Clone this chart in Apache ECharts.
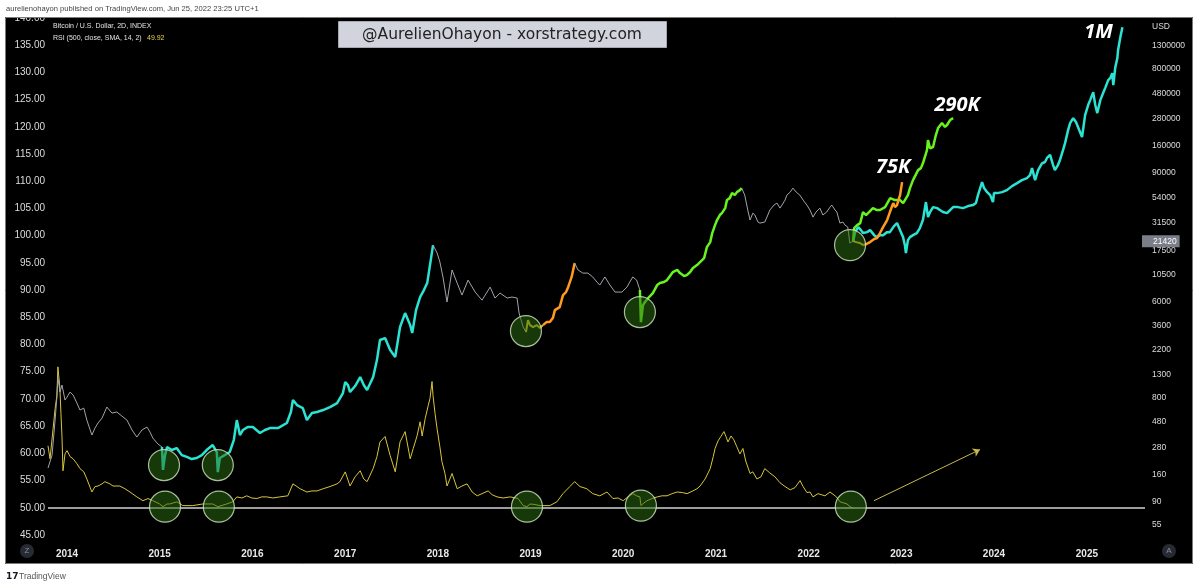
<!DOCTYPE html>
<html>
<head>
<meta charset="utf-8">
<title>BTC RSI 500 cycles</title>
<script src="https://cdn.jsdelivr.net/npm/echarts@6/dist/echarts.min.js"></script>
<style>
  html, body { margin: 0; padding: 0; background: #fff; }
  #chart { width: 1200px; height: 588px; }
</style>
</head>
<body>
<div id="chart"></div>
<script>
// ---- axis ticks ----
const priceTicks = [55, 90, 160, 280, 480, 800, 1300, 2200, 3600, 6000, 10500, 17500, 31500,
  54000, 90000, 160000, 280000, 480000, 800000, 1300000];
const lastPrice = 21420;
const lastRsi = 49.92;

// ---- price history, split by colour ----
const histGray1 = [['2013-10-18', 182], ['2013-11-03', 239], ['2013-11-15', 499], ['2013-11-22', 809], ['2013-11-26', 1232],
  ['2013-12-04', 899], ['2013-12-12', 1042], ['2013-12-24', 760], ['2014-01-01', 809], ['2014-01-13', 899], ['2014-01-25', 844],
  ['2014-02-09', 713], ['2014-02-21', 616], ['2014-03-08', 642], ['2014-03-20', 499], ['2014-04-09', 364], ['2014-04-21', 422],
  ['2014-05-03', 469], ['2014-05-19', 521], ['2014-06-07', 656], ['2014-06-27', 578], ['2014-07-16', 591], ['2014-08-05', 543],
  ['2014-08-25', 499], ['2014-09-14', 405], ['2014-10-03', 349], ['2014-10-23', 405], ['2014-11-12', 431], ['2014-11-24', 388],
  ['2014-12-05', 342], ['2014-12-25', 302], ['2015-01-10', 283]];
const histCyan = [['2015-01-10', 283], ['2015-01-14', 175], ['2015-01-22', 239], ['2015-01-30', 283], ['2015-02-18', 266],
  ['2015-03-09', 277], ['2015-03-29', 239], ['2015-04-18', 230], ['2015-05-07', 220], ['2015-05-27', 225], ['2015-06-16', 239],
  ['2015-07-05', 266], ['2015-07-29', 295], ['2015-08-14', 255], ['2015-08-18', 167], ['2015-08-26', 225], ['2015-09-14', 239],
  ['2015-10-04', 255], ['2015-10-20', 328], ['2015-11-01', 499], ['2015-11-13', 364], ['2015-11-25', 405], ['2015-12-14', 431],
  ['2016-01-03', 431], ['2016-01-31', 380], ['2016-02-20', 405], ['2016-03-10', 422], ['2016-04-11', 422], ['2016-05-16', 469],
  ['2016-06-01', 591], ['2016-06-09', 760], ['2016-06-25', 684], ['2016-07-18', 642], ['2016-08-03', 499], ['2016-08-23', 578],
  ['2016-09-12', 591], ['2016-10-06', 616], ['2016-11-02', 656], ['2016-11-30', 713], ['2016-12-23', 880], ['2017-01-01', 1109],
  ['2017-01-12', 1042], ['2017-01-20', 899], ['2017-02-09', 1020], ['2017-03-01', 1232], ['2017-03-15', 1042], ['2017-03-28', 937],
  ['2017-04-21', 1232], ['2017-05-06', 1761], ['2017-05-18', 2683], ['2017-06-07', 2796], ['2017-06-27', 2171], ['2017-07-17', 1876],
  ['2017-08-05', 3525], ['2017-08-25', 4728], ['2017-09-14', 3670], ['2017-09-22', 3107], ['2017-10-07', 5030], ['2017-10-23', 6617],
  ['2017-11-07', 7667], ['2017-11-20', 8878], ['2017-12-01', 12960], ['2017-12-13', 19700]];
const histGray2 = [['2017-12-13', 19700], ['2017-12-29', 16700], ['2018-01-09', 13800], ['2018-01-21', 10100], ['2018-02-06', 5960],
  ['2018-02-26', 11700], ['2018-03-18', 8880], ['2018-04-06', 6900], ['2018-04-30', 9450], ['2018-05-28', 7350], ['2018-06-24', 6200],
  ['2018-07-26', 8160], ['2018-08-14', 6480], ['2018-09-03', 7200], ['2018-10-01', 6480], ['2018-10-20', 6620], ['2018-11-09', 6480],
  ['2018-11-17', 4730], ['2018-12-03', 3525], ['2018-12-14', 3170]];
const histYellow = [['2018-12-14', 3170], ['2018-12-22', 4080], ['2018-12-30', 3670], ['2019-01-11', 3525], ['2019-01-26', 3670],
  ['2019-02-07', 3450], ['2019-02-19', 3670]];
const histOrange = [['2019-02-19', 3670], ['2019-03-06', 3910], ['2019-03-18', 3910], ['2019-03-30', 4256], ['2019-04-07', 5030],
  ['2019-04-26', 5360], ['2019-05-09', 6900], ['2019-05-21', 7350], ['2019-05-28', 7990], ['2019-06-12', 10100], ['2019-06-24', 13500]];
const histGray3 = [['2019-06-24', 13500], ['2019-07-07', 11700], ['2019-07-26', 10950], ['2019-08-15', 10950], ['2019-09-03', 10100],
  ['2019-09-20', 9070], ['2019-10-01', 8510], ['2019-10-21', 10100], ['2019-11-10', 8510], ['2019-11-30', 7350], ['2019-12-15', 7350],
  ['2019-12-27', 7350], ['2020-01-16', 8160], ['2020-01-27', 9070], ['2020-02-08', 10100], ['2020-02-23', 9450], ['2020-03-07', 7670]];
const histGreen = [['2020-03-07', 7670], ['2020-03-11', 3910], ['2020-03-19', 5590], ['2020-03-27', 5960], ['2020-04-12', 6620],
  ['2020-04-27', 7200], ['2020-05-14', 8510], ['2020-05-25', 8880], ['2020-06-10', 9070], ['2020-06-22', 9450], ['2020-07-15', 11200],
  ['2020-08-01', 11700], ['2020-08-12', 10950], ['2020-08-28', 10300], ['2020-09-08', 10500], ['2020-09-21', 11200], ['2020-10-02', 12200],
  ['2020-10-18', 12960], ['2020-10-30', 13800], ['2020-11-15', 15000], ['2020-11-26', 18900], ['2020-12-09', 21000], ['2020-12-17', 25400],
  ['2020-12-28', 30000], ['2021-01-05', 33400], ['2021-01-16', 37100], ['2021-01-24', 38600], ['2021-02-06', 42900], ['2021-02-13', 50800],
  ['2021-02-24', 52900], ['2021-03-05', 58800], ['2021-03-16', 56400], ['2021-03-24', 60000], ['2021-04-05', 62600], ['2021-04-12', 65300]];
const histGray4 = [['2021-04-12', 65300], ['2021-04-24', 56400], ['2021-05-06', 41200], ['2021-05-15', 33400], ['2021-05-26', 38600],
  ['2021-06-03', 37100], ['2021-06-15', 32000], ['2021-06-23', 31300], ['2021-07-12', 32000], ['2021-07-24', 37100], ['2021-08-01', 41200],
  ['2021-08-17', 45700], ['2021-08-29', 47700], ['2021-09-10', 42900], ['2021-09-17', 41200], ['2021-09-30', 50800], ['2021-10-07', 56400],
  ['2021-10-20', 60000], ['2021-10-31', 65300], ['2021-11-13', 60000], ['2021-11-27', 56400], ['2021-12-10', 50800], ['2021-12-25', 45700],
  ['2022-01-06', 41200], ['2022-01-18', 35500], ['2022-01-30', 39500], ['2022-02-14', 42900], ['2022-02-26', 37100], ['2022-03-13', 39500],
  ['2022-03-26', 43800], ['2022-04-02', 45700], ['2022-04-15', 41200], ['2022-04-22', 39500], ['2022-05-04', 31300], ['2022-05-16', 32000],
  ['2022-05-24', 30000], ['2022-06-04', 28800], ['2022-06-12', 20600], ['2022-06-25', 21420]];

// ---- projected paths ----
const projGreen = [['2022-06-25', 21420], ['2022-06-29', 28200], ['2022-07-11', 30000], ['2022-07-23', 31300], ['2022-08-03', 39500],
  ['2022-08-15', 37100], ['2022-08-23', 38600], ['2022-09-11', 42900], ['2022-09-27', 41200], ['2022-10-09', 41200], ['2022-10-29', 43800],
  ['2022-11-18', 52900], ['2022-12-07', 50800], ['2022-12-27', 50800], ['2023-01-08', 47700], ['2023-01-27', 56400], ['2023-02-04', 65300],
  ['2023-02-16', 77300], ['2023-03-08', 95300], ['2023-03-19', 99400], ['2023-03-27', 110000], ['2023-04-12', 145000], ['2023-04-16', 179000],
  ['2023-04-24', 151000], ['2023-05-06', 155000], ['2023-05-17', 199000], ['2023-05-26', 231000], ['2023-06-10', 256000],
  ['2023-06-22', 236000], ['2023-06-30', 246000], ['2023-07-12', 273000], ['2023-07-24', 284000]];
const projYellow = [['2022-06-25', 21420], ['2022-07-07', 21000], ['2022-07-22', 20600], ['2022-08-03', 19700]];
const projOrange = [['2022-08-03', 19700], ['2022-08-15', 20100], ['2022-08-31', 21000], ['2022-09-16', 22400], ['2022-09-27', 22900],
  ['2022-10-09', 25400], ['2022-10-21', 28800], ['2022-11-06', 33400], ['2022-11-17', 39500], ['2022-11-30', 47700], ['2022-12-07', 43800],
  ['2022-12-15', 45700], ['2022-12-23', 52900], ['2022-12-27', 56400], ['2023-01-04', 74100]];
const projCyan = [['2022-06-25', 21420], ['2022-07-03', 25900], ['2022-07-15', 28800], ['2022-07-26', 27000], ['2022-08-03', 25400],
  ['2022-08-19', 25900], ['2022-08-31', 27000], ['2022-09-16', 24300], ['2022-09-27', 23300], ['2022-10-09', 24300], ['2022-10-21', 24300],
  ['2022-11-06', 25900], ['2022-11-17', 25900], ['2022-12-03', 29400], ['2022-12-15', 31300], ['2022-12-27', 27000], ['2023-01-08', 23300],
  ['2023-01-15', 19700], ['2023-01-19', 16700], ['2023-01-27', 21900], ['2023-02-04', 23300], ['2023-02-16', 24300], ['2023-03-03', 25400],
  ['2023-03-15', 28200], ['2023-03-27', 33400], ['2023-04-08', 48700], ['2023-04-16', 35500], ['2023-04-24', 39500], ['2023-05-06', 43800],
  ['2023-05-22', 42900], ['2023-06-02', 41200], ['2023-06-14', 39500], ['2023-06-30', 38600], ['2023-07-12', 41200], ['2023-07-24', 43800],
  ['2023-08-12', 43800], ['2023-09-01', 42900], ['2023-09-21', 44800], ['2023-10-10', 45700], ['2023-10-22', 47700], ['2023-10-30', 56400],
  ['2023-11-15', 74100], ['2023-11-23', 65300], ['2023-12-05', 60000], ['2023-12-17', 56400], ['2023-12-28', 48700], ['2024-01-01', 58800],
  ['2024-01-13', 58800], ['2024-02-02', 60000], ['2024-02-21', 62600], ['2024-03-12', 68100], ['2024-04-01', 72600], ['2024-04-20', 77300],
  ['2024-05-10', 80600], ['2024-05-22', 85900], ['2024-05-30', 99400], ['2024-06-11', 77300], ['2024-06-23', 95300], ['2024-07-08', 110000],
  ['2024-07-20', 113000], ['2024-07-28', 123000], ['2024-08-09', 131000], ['2024-08-21', 106000], ['2024-08-28', 95300], ['2024-09-09', 106000],
  ['2024-09-17', 118000], ['2024-09-29', 145000], ['2024-10-07', 168000], ['2024-10-19', 221000], ['2024-10-27', 256000], ['2024-11-08', 284000],
  ['2024-11-19', 262000], ['2024-11-27', 236000], ['2024-12-13', 191000], ['2024-12-25', 303000], ['2025-01-06', 374000], ['2025-01-14', 415000],
  ['2025-01-26', 491000], ['2025-02-03', 374000], ['2025-02-11', 316000], ['2025-02-23', 415000], ['2025-03-06', 481000], ['2025-03-14', 534000],
  ['2025-03-26', 631000], ['2025-04-03', 659000], ['2025-04-11', 731000], ['2025-04-15', 569000], ['2025-04-23', 830000], ['2025-05-01', 1000000],
  ['2025-05-04', 1190000], ['2025-05-13', 1560000], ['2025-05-21', 1920000]];

// ---- RSI (500) ----
const rsiValues = [['2013-10-18', 61.4], ['2013-10-26', 59.0], ['2013-11-07', 64.5], ['2013-11-15', 68.2], ['2013-11-22', 70.6],
  ['2013-11-26', 75.9], ['2013-12-04', 71.9], ['2013-12-08', 67.3], ['2013-12-12', 63.2], ['2013-12-16', 56.8], ['2013-12-24', 59.9],
  ['2014-01-01', 60.5], ['2014-01-13', 59.4], ['2014-01-25', 59.0], ['2014-02-09', 58.1], ['2014-02-21', 57.2], ['2014-03-08', 56.6],
  ['2014-03-20', 55.3], ['2014-04-09', 52.9], ['2014-04-21', 53.9], ['2014-05-03', 54.0], ['2014-05-19', 54.4], ['2014-05-30', 54.8],
  ['2014-06-19', 54.4], ['2014-07-01', 54.0], ['2014-07-28', 54.0], ['2014-08-17', 53.5], ['2014-09-06', 52.9], ['2014-10-03', 52.0],
  ['2014-10-27', 51.3], ['2014-11-16', 51.7], ['2014-12-05', 51.3], ['2015-01-01', 50.7], ['2015-01-14', 50.2], ['2015-01-30', 50.7],
  ['2015-02-10', 50.7], ['2015-03-10', 51.1], ['2015-04-02', 50.4], ['2015-05-11', 50.4], ['2015-06-20', 50.7], ['2015-07-29', 50.7],
  ['2015-08-18', 50.2], ['2015-09-22', 50.7], ['2015-10-16', 51.1], ['2015-11-01', 52.0], ['2015-11-21', 51.8], ['2015-12-10', 52.2],
  ['2015-12-30', 51.8], ['2016-01-19', 51.7], ['2016-02-07', 52.0], ['2016-02-27', 52.0], ['2016-03-22', 51.8], ['2016-04-18', 52.0],
  ['2016-05-20', 52.2], ['2016-06-09', 54.4], ['2016-06-25', 53.9], ['2016-07-07', 53.5], ['2016-08-03', 52.9], ['2016-08-23', 53.1],
  ['2016-09-12', 53.1], ['2016-10-06', 53.5], ['2016-11-02', 53.9], ['2016-11-30', 54.4], ['2016-12-11', 54.8], ['2017-01-01', 56.6],
  ['2017-01-20', 54.0], ['2017-02-09', 55.7], ['2017-03-01', 56.8], ['2017-03-15', 55.3], ['2017-03-28', 54.8], ['2017-04-21', 57.2],
  ['2017-05-06', 59.4], ['2017-05-18', 62.1], ['2017-06-07', 63.1], ['2017-06-27', 59.6], ['2017-07-17', 56.6], ['2017-08-05', 62.1],
  ['2017-08-25', 64.0], ['2017-09-14', 59.0], ['2017-09-26', 60.9], ['2017-10-11', 63.2], ['2017-10-23', 65.8], ['2017-10-31', 63.2],
  ['2017-11-12', 66.4], ['2017-11-24', 68.8], ['2017-12-01', 70.1], ['2017-12-09', 73.2], ['2017-12-13', 70.6], ['2017-12-21', 67.3],
  ['2017-12-29', 64.5], ['2018-01-09', 61.2], ['2018-01-17', 58.5], ['2018-01-29', 56.3], ['2018-02-06', 54.0], ['2018-02-26', 56.3],
  ['2018-03-18', 53.5], ['2018-04-06', 54.0], ['2018-04-26', 54.4], ['2018-05-16', 52.9], ['2018-06-05', 52.2], ['2018-06-24', 52.6],
  ['2018-07-18', 53.1], ['2018-08-03', 52.4], ['2018-08-22', 52.0], ['2018-09-15', 51.8], ['2018-10-13', 52.0], ['2018-11-13', 51.7],
  ['2018-12-03', 50.4], ['2018-12-18', 50.2], ['2018-12-30', 50.7], ['2019-01-19', 50.6], ['2019-02-07', 50.4], ['2019-02-27', 50.4],
  ['2019-03-18', 50.4], ['2019-04-15', 51.1], ['2019-05-09', 52.6], ['2019-06-05', 53.9], ['2019-06-24', 54.8], ['2019-07-15', 53.9],
  ['2019-08-11', 53.5], ['2019-09-03', 52.6], ['2019-10-01', 52.2], ['2019-10-29', 52.9], ['2019-11-22', 51.7], ['2019-12-12', 51.8],
  ['2020-01-01', 51.3], ['2020-01-20', 52.0], ['2020-02-08', 52.6], ['2020-02-23', 52.2], ['2020-03-07', 52.0], ['2020-03-11', 50.4],
  ['2020-03-23', 50.9], ['2020-04-04', 51.3], ['2020-04-24', 51.7], ['2020-05-14', 52.0], ['2020-06-02', 52.2], ['2020-06-22', 52.2],
  ['2020-07-12', 52.6], ['2020-08-01', 52.9], ['2020-08-21', 52.8], ['2020-09-09', 52.6], ['2020-10-02', 53.1], ['2020-10-18', 53.5],
  ['2020-10-30', 54.0], ['2020-11-19', 55.3], ['2020-12-09', 57.2], ['2020-12-21', 59.4], ['2020-12-28', 60.9], ['2021-01-09', 62.3],
  ['2021-01-20', 63.1], ['2021-02-01', 64.0], ['2021-02-09', 63.1], ['2021-02-17', 62.1], ['2021-03-01', 63.2], ['2021-03-12', 62.5],
  ['2021-03-24', 61.2], ['2021-04-05', 59.9], ['2021-04-17', 60.9], ['2021-04-28', 58.6], ['2021-05-15', 56.3], ['2021-05-26', 56.6],
  ['2021-06-11', 55.3], ['2021-06-27', 55.7], ['2021-07-12', 57.2], ['2021-08-01', 56.4], ['2021-08-21', 55.7], ['2021-09-10', 54.6],
  ['2021-09-30', 53.9], ['2021-10-20', 53.3], ['2021-11-08', 53.7], ['2021-11-28', 55.0], ['2021-12-10', 53.9], ['2021-12-25', 52.8],
  ['2022-01-06', 52.9], ['2022-01-18', 52.0], ['2022-02-07', 52.6], ['2022-03-06', 52.2], ['2022-03-26', 52.9], ['2022-04-15', 52.2],
  ['2022-04-26', 51.7], ['2022-05-04', 51.1], ['2022-06-01', 50.7], ['2022-06-13', 50.2], ['2022-06-25', 49.92]];

// ---- annotations ----
const priceBottoms = [['2015-01-18', 194], ['2015-08-18', 194], ['2018-12-14', 3240], ['2020-03-07', 4830], ['2022-06-13', 19700]];
const rsiBottoms = [['2015-01-22', 50.2], ['2015-08-22', 50.2], ['2018-12-18', 50.2], ['2020-03-11', 50.4], ['2022-06-16', 50.2]];
const arrowPath = [['2022-09-15', 51.3], ['2023-11-07', 60.7]];

// axis range in price (right, log)
const priceAxisMin = 44.6;
const priceAxisMax = 2330000;

const chart = echarts.init(document.getElementById('chart'));
const FONT = 'Liberation Sans';
const toLn = rows => rows.map(r => [r[0], Math.log(r[1])]);

function priceLine(rows, color, width, extra) {
  return Object.assign({
    type: 'line',
    yAxisIndex: 1,
    data: toLn(rows),
    symbol: 'none',
    showSymbol: false,
    silent: true,
    lineStyle: { color: color, width: width },
    itemStyle: { color: color },
    z: 3
  }, extra || {});
}

// big bold label at end of a projected path
function endLabel(rows, text, position, offset) {
  const last = rows[rows.length - 1];
  return {
    symbol: 'circle',
    symbolSize: 1,
    silent: true,
    itemStyle: { color: 'transparent' },
    data: [{
      coord: [last[0], Math.log(last[1])],
      label: {
        show: true, formatter: text, position: position, offset: offset, distance: 4,
        color: '#ffffff', fontFamily: 'Open Sans', fontWeight: 'bold', fontStyle: 'italic', fontSize: 20
      }
    }]
  };
}

const option = {
  animation: false,
  backgroundColor: '#000000',
  grid: { left: 48, right: 55, top: 18, bottom: 53 },
  xAxis: {
    type: 'time',
    min: '2013-10-18',
    max: '2025-08-18',
    splitNumber: 12,
    minInterval: 365 * 24 * 3600 * 1000,
    axisLine: { show: false },
    axisTick: { show: false },
    splitLine: { show: false },
    axisLabel: {
      formatter: '{yyyy}',
      showMinLabel: false,
      showMaxLabel: false,
      color: '#e8e8e8', fontWeight: 'bold', fontSize: 10, fontFamily: FONT, margin: 14
    }
  },
  yAxis: [{
    type: 'value',
    position: 'left',
    min: 45,
    max: 140,
    interval: 5,
    axisLine: { show: false },
    axisTick: { show: false },
    splitLine: { show: false },
    axisLabel: { formatter: v => v.toFixed(2), color: '#dcdcdc', fontSize: 10, fontFamily: FONT, margin: 3 }
  }, {
    type: 'value',
    position: 'right',
    min: Math.log(priceAxisMin),
    max: Math.log(priceAxisMax),
    axisLine: { show: false },
    axisTick: { show: false },
    splitLine: { show: false },
    axisLabel: {
      customValues: priceTicks.map(p => Math.log(p)),
      formatter: v => String(Math.round(Math.exp(v))),
      color: '#dcdcdc', fontSize: 8.5, fontFamily: FONT, margin: 7
    }
  }],
  series: [
    {
      name: 'RSI',
      type: 'line',
      yAxisIndex: 0,
      data: rsiValues,
      symbol: 'none',
      silent: true,
      lineStyle: { color: '#d9c63b', width: 1 },
      z: 2,
      markLine: {
        silent: true,
        symbol: 'none',
        label: { show: false },
        lineStyle: { color: '#d2d2d2', width: 1.5, type: 'solid' },
        data: [{ yAxis: 50 }]
      }
    },
    {
      name: 'arrow',
      type: 'line',
      yAxisIndex: 0,
      data: arrowPath,
      symbol: 'none',
      silent: true,
      lineStyle: { opacity: 0 },
      markLine: {
        silent: true,
        symbol: ['none', 'arrow'],
        symbolSize: 7,
        label: { show: false },
        lineStyle: { color: '#c8b84c', width: 1, type: 'solid' },
        data: [[{ coord: arrowPath[0] }, { coord: arrowPath[1] }]]
      }
    },
    priceLine(histGray1, '#a3a3ad', 1),
    priceLine(histCyan, '#2be3d3', 2.5),
    priceLine(histGray2, '#a3a3ad', 1),
    priceLine(histYellow, '#e6c21d', 2),
    priceLine(histOrange, '#ff9a1f', 2.5),
    priceLine(histGray3, '#a3a3ad', 1),
    priceLine(histGreen, '#67f41e', 2.5),
    priceLine(histGray4, '#a3a3ad', 1, {
      clip: false,
      markLine: {
        silent: true,
        symbol: 'none',
        lineStyle: { color: 'rgba(0,0,0,0)', width: 1 },
        data: [{ yAxis: Math.log(lastPrice) }],
        label: {
          show: true, position: 'end', distance: -3, formatter: String(lastPrice),
          backgroundColor: '#7b7e88', color: '#ffffff', fontSize: 8.5, fontFamily: FONT,
          padding: [2, 3, 1, 11], opacity: 1
        }
      }
    }),
    priceLine(projCyan, '#2be3d3', 2.5, { markPoint: endLabel(projCyan, '1M', 'left', [-5, 5]) }),
    priceLine(projGreen, '#67f41e', 2.5, { markPoint: endLabel(projGreen, '290K', 'top', [4, 2]) }),
    priceLine(projYellow, '#e6c21d', 2),
    priceLine(projOrange, '#ff9a1f', 2.5, { markPoint: endLabel(projOrange, '75K', 'top', [-9, 0]) }),
    {
      name: 'price bottoms',
      type: 'scatter',
      yAxisIndex: 1,
      data: toLn(priceBottoms),
      symbolSize: 31,
      silent: true,
      itemStyle: { color: 'rgba(45,110,20,0.65)', borderColor: '#cfe8c0', borderWidth: 1.2 },
      z: 5
    },
    {
      name: 'rsi bottoms',
      type: 'scatter',
      yAxisIndex: 0,
      data: rsiBottoms,
      symbolSize: 31,
      silent: true,
      itemStyle: { color: 'rgba(45,110,20,0.65)', borderColor: '#cfe8c0', borderWidth: 1.2 },
      z: 5
    }
  ],
  graphic: [
    // white frame around the black pane
    { type: 'rect', z: 100, shape: { x: 0, y: 0, width: 1200, height: 17 }, style: { fill: '#ffffff' } },
    { type: 'rect', z: 100, shape: { x: 0, y: 564, width: 1200, height: 24 }, style: { fill: '#ffffff' } },
    { type: 'rect', z: 100, shape: { x: 0, y: 0, width: 5, height: 588 }, style: { fill: '#ffffff' } },
    { type: 'rect', z: 100, shape: { x: 1193, y: 0, width: 7, height: 588 }, style: { fill: '#ffffff' } },
    { type: 'rect', z: 101, shape: { x: 5.5, y: 17.5, width: 1187, height: 546 }, style: { fill: 'transparent', stroke: '#7a7a7a', lineWidth: 1 } },
    {
      type: 'text', z: 102, x: 6, y: 9,
      style: { text: 'aurelienohayon published on TradingView.com, Jun 25, 2022 23:25 UTC+1', fill: '#444444',
        font: '7.6px "Liberation Sans"', textVerticalAlign: 'middle', verticalAlign: 'middle' }
    },
    {
      type: 'text', z: 102, x: 53, y: 26,
      style: { text: 'Bitcoin / U.S. Dollar, 2D, INDEX', fill: '#e2e2e2', font: '7px "Liberation Sans"',
        textVerticalAlign: 'middle', verticalAlign: 'middle' }
    },
    {
      type: 'text', z: 102, x: 53, y: 38,
      style: { text: 'RSI (500, close, SMA, 14, 2)', fill: '#e2e2e2', font: '7px "Liberation Sans"',
        textVerticalAlign: 'middle', verticalAlign: 'middle' }
    },
    {
      type: 'text', z: 102, x: 147, y: 38,
      style: { text: lastRsi.toFixed(2), fill: '#e8d545', font: '7px "Liberation Sans"',
        textVerticalAlign: 'middle', verticalAlign: 'middle' }
    },
    // watermark
    { type: 'rect', z: 102, shape: { x: 338.5, y: 21.5, width: 328, height: 26 }, style: { fill: '#d1d4dc', stroke: '#a5a8b0', lineWidth: 1 } },
    {
      type: 'text', z: 103, x: 502, y: 34.5,
      style: { text: '@AurelienOhayon - xorstrategy.com', fill: '#222222', font: '15.5px "DejaVu Sans"',
        textAlign: 'center', align: 'center', textVerticalAlign: 'middle', verticalAlign: 'middle' }
    },
    {
      type: 'text', z: 102, x: 1152, y: 27,
      style: { text: 'USD', fill: '#dcdcdc', font: '8.5px "Liberation Sans"', textVerticalAlign: 'middle', verticalAlign: 'middle' }
    },
    // scale buttons
    { type: 'circle', z: 102, shape: { cx: 27, cy: 551, r: 7 }, style: { fill: '#262a33' } },
    {
      type: 'text', z: 103, x: 27, y: 551,
      style: { text: 'Z', fill: '#8a8e99', font: '8px "Liberation Sans"', textAlign: 'center', align: 'center',
        textVerticalAlign: 'middle', verticalAlign: 'middle' }
    },
    { type: 'circle', z: 102, shape: { cx: 1169, cy: 551, r: 7 }, style: { fill: '#262a33' } },
    {
      type: 'text', z: 103, x: 1169, y: 551,
      style: { text: 'A', fill: '#8a8e99', font: '8px "Liberation Sans"', textAlign: 'center', align: 'center',
        textVerticalAlign: 'middle', verticalAlign: 'middle' }
    },
    // footer
    {
      type: 'text', z: 102, x: 6, y: 577,
      style: { text: '17', fill: '#131722', font: 'bold 9px "DejaVu Sans"', textVerticalAlign: 'middle', verticalAlign: 'middle' }
    },
    {
      type: 'text', z: 102, x: 19, y: 577,
      style: { text: 'TradingView', fill: '#555555', font: '8.5px "Liberation Sans"', textVerticalAlign: 'middle', verticalAlign: 'middle' }
    }
  ]
};

chart.setOption(option);
</script>
</body>
</html>
